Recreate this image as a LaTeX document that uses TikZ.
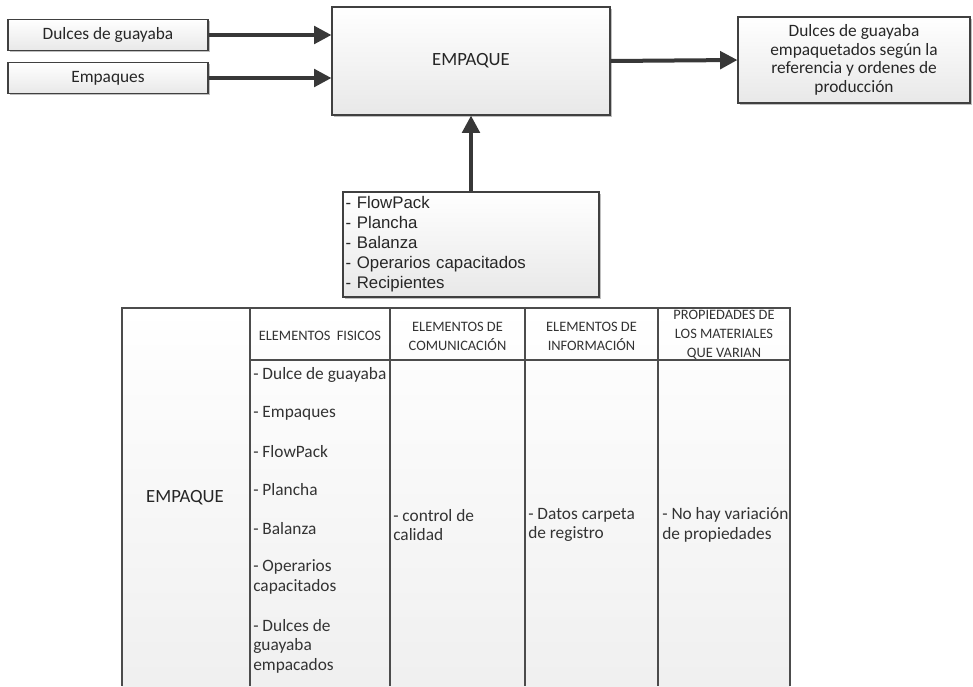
\documentclass[tikz,border=0pt]{standalone}
\usepackage{fontspec}
\setmainfont{Carlito}
\newfontfamily\arialfont{Liberation Sans}
\usetikzlibrary{arrows.meta,shadows}

\begin{document}
\begin{tikzpicture}[x=0.75pt,y=-0.75pt,
  box/.style={draw=black!75, line width=0.8pt, top color=white, bottom color=black!9,
    drop shadow={shadow xshift=1.2pt, shadow yshift=-1.2pt, opacity=0.25, fill=black},
    font=\fontsize{13}{14}\selectfont, text=black!85, align=center, inner sep=2pt},
  flow/.style={line width=3pt, draw=black!78, -{Triangle[length=13pt,width=13pt]}},
  gridline/.style={draw=black!70, line width=1pt},
  head/.style={font=\fontsize{10.8}{14.2}\selectfont, text=black!80, align=center, inner sep=0pt},
  cell/.style={font=\fontsize{13}{14.6}\selectfont, text=black!80, align=left, anchor=west, inner sep=0pt},
]
\useasboundingbox (0,0) rectangle (973,686);

% --- process diagram ---
\node[box, minimum width=150pt, minimum height=23.25pt] (in1) at (108,35) {Dulces de guayaba};
\node[box, minimum width=150pt, minimum height=23.25pt] (in2) at (108,78) {Empaques};
\node[box, minimum width=208.5pt, minimum height=81pt, font=\fontsize{14}{16}\selectfont] (proc) at (471,61) {EMPAQUE};
\node[box, minimum width=174pt, minimum height=64.5pt] (out) at (854,60)
  {Dulces de guayaba\\empaquetados según la\\referencia y ordenes de\\producción};
\node[box, minimum height=78.75pt, text width=188pt, align=left, inner xsep=2pt,
  font=\arialfont\fontsize{12.6}{15}\selectfont] (res) at (471,244.5)
  {- FlowPack\\- Plancha\\- Balanza\\- Operarios capacitados\\- Recipientes};

\draw[flow] (in1.east) -- (in1.east -| proc.west);
\draw[flow] (in2.east) -- (in2.east -| proc.west);
\draw[flow] (proc.east) -- (out.west);
\draw[flow] (res.north) -- (proc.south);

% --- table ---
\fill[top color=white, bottom color=black!6] (122,308) rectangle (790,686);
\draw[gridline] (122,686) -- (122,308) -- (790,308) -- (790,686);
\foreach \cx in {250,390,525,658} \draw[gridline] (\cx,308) -- (\cx,686);
\draw[gridline] (250,360) -- (790,360);

\node[head] (h2) at (320,336) {ELEMENTOS~~FISICOS};
\node[head] (h3) at (457.5,336) {ELEMENTOS DE\\COMUNICACIÓN};
\node[head] (h4) at (591.5,336) {ELEMENTOS DE\\INFORMACIÓN};
\node[head] (h5) at (724,335) {PROPIEDADES DE\\LOS MATERIALES\\QUE VARIAN};

\node[font=\fontsize{14}{16}\selectfont, text=black!85] (stage) at (185,498) {EMPAQUE};

\node[cell] (f1) at (253,375) {- Dulce de guayaba};
\node[cell] (f2) at (253,413) {- Empaques};
\node[cell] (f3) at (253,452) {- FlowPack};
\node[cell] (f4) at (253,490) {- Plancha};
\node[cell] (f5) at (253,529) {- Balanza};
\node[cell] (f6) at (253,577) {- Operarios\\capacitados};
\node[cell] (f7) at (253,646) {- Dulces de\\guayaba\\empacados};

\node[cell] (c1) at (393,525) {- control de\\calidad};
\node[cell] (i1) at (528,525) {- Datos carpeta\\de registro};
\node[cell] (p1) at (662,525) {- No hay variación\\de propiedades};
\end{tikzpicture}
\end{document}
